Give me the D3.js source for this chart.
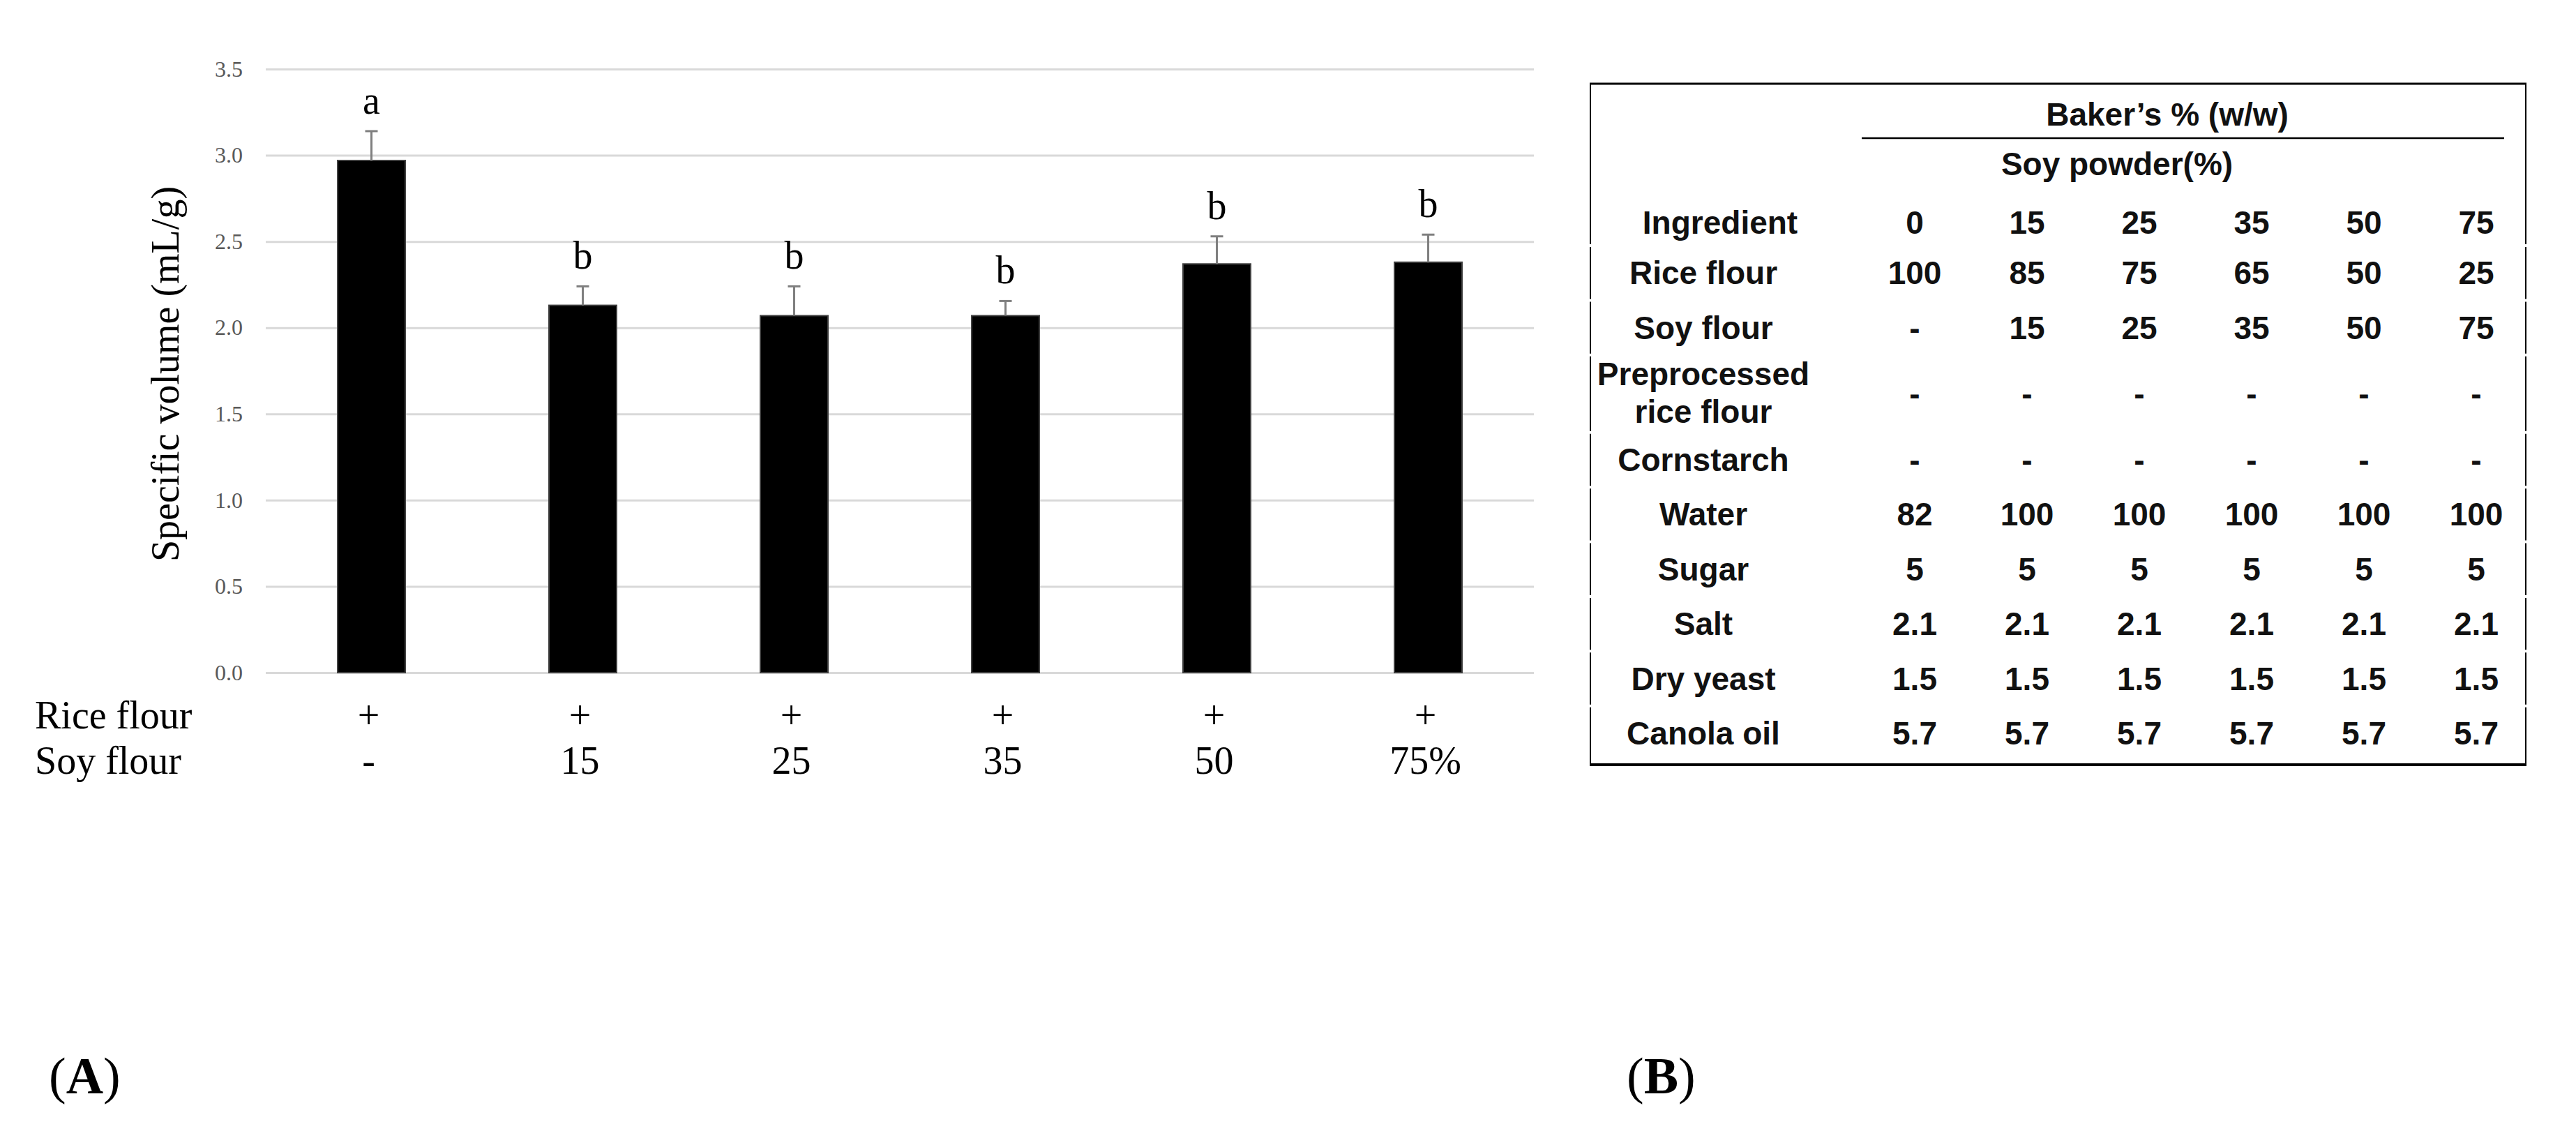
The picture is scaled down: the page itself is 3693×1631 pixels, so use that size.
<!DOCTYPE html>
<html>
<head>
<meta charset="utf-8">
<script src="https://cdnjs.cloudflare.com/ajax/libs/d3/7.8.5/d3.min.js"></script>
<style>
  html, body { margin: 0; padding: 0; background: #fff; }
  svg { display: block; }
  .serif { font-family: "Liberation Serif", "Times New Roman", serif; }
  .sans { font-family: "Liberation Sans", Arial, sans-serif; font-weight: bold; }
</style>
</head>
<body>
<svg id="fig" width="3693" height="1631"></svg>
<script>
// ---- panel A data ----
var riceMarks = ["+", "+", "+", "+", "+", "+"];
var soyLevels = ["-", "15", "25", "35", "50", "75%"];
var specificVolume = [2.97, 2.13, 2.07, 2.07, 2.37, 2.38];
var volumeSD = [0.17, 0.11, 0.17, 0.085, 0.16, 0.16];
var groupLetters = ["a", "b", "b", "b", "b", "b"];
var yTicks = [0, 0.5, 1.0, 1.5, 2.0, 2.5, 3.0, 3.5];

// ---- panel B data ----
var soyPowderCols = ["0", "15", "25", "35", "50", "75"];
var ingredients = ["Rice flour", "Soy flour", "Preprocessed\nrice flour", "Cornstarch",
  "Water", "Sugar", "Salt", "Dry yeast", "Canola oil"];
var riceFlourPct = ["100", "85", "75", "65", "50", "25"];
var soyFlourPct = ["-", "15", "25", "35", "50", "75"];
var preprocessedPct = ["-", "-", "-", "-", "-", "-"];
var cornstarchPct = ["-", "-", "-", "-", "-", "-"];
var waterPct = ["82", "100", "100", "100", "100", "100"];
var sugarPct = ["5", "5", "5", "5", "5", "5"];
var saltPct = ["2.1", "2.1", "2.1", "2.1", "2.1", "2.1"];
var yeastPct = ["1.5", "1.5", "1.5", "1.5", "1.5", "1.5"];
var oilPct = ["5.7", "5.7", "5.7", "5.7", "5.7", "5.7"];
var tableValues = [riceFlourPct, soyFlourPct, preprocessedPct, cornstarchPct,
  waterPct, sugarPct, saltPct, yeastPct, oilPct];

var svg = d3.select("#fig");
svg.append("rect").attr("width", 3693).attr("height", 1631).attr("fill", "#fff");

// ================= chart (A) =================
var x = d3.scaleBand()
  .domain(d3.range(specificVolume.length))
  .range([381, 2199])
  .paddingInner(0.68)
  .paddingOuter(0.34);

var y = d3.scaleLinear().domain([0, 3.5]).range([964, 99]);

var gridAxis = d3.axisLeft(y)
  .tickValues(yTicks)
  .tickFormat(d3.format(".1f"))
  .tickSize(-(2199 - 381))
  .tickPadding(33);

var ga = svg.append("g")
  .attr("class", "serif")
  .attr("transform", "translate(381,0)")
  .call(gridAxis);
ga.select(".domain").remove();
ga.selectAll(".tick line").attr("stroke", "#d9d9d9").attr("stroke-width", 3);
ga.selectAll(".tick text")
  .attr("fill", "#595959")
  .attr("font-size", 32)
  .attr("font-family", "Liberation Serif, Times New Roman, serif");

svg.append("g").selectAll("rect")
  .data(specificVolume)
  .enter().append("rect")
  .attr("x", function(d, i) { return x(i); })
  .attr("y", function(d) { return y(d); })
  .attr("width", x.bandwidth())
  .attr("height", function(d) { return y(0) - y(d); })
  .attr("fill", "#000")
  .attr("stroke", "#404040")
  .attr("stroke-width", 2);

var errG = svg.append("g")
  .attr("stroke", "#7f7f7f")
  .attr("stroke-width", 3)
  .attr("fill", "none");

specificVolume.forEach(function(v, i) {
  var cx = x(i) + x.bandwidth() / 2;
  var top = y(v + volumeSD[i]);
  errG.append("line")
    .attr("x1", cx).attr("x2", cx)
    .attr("y1", y(v)).attr("y2", top);
  errG.append("line")
    .attr("x1", cx - 9).attr("x2", cx + 9)
    .attr("y1", top).attr("y2", top);
});

svg.append("g").attr("class", "serif").selectAll("text")
  .data(groupLetters)
  .enter().append("text")
  .attr("x", function(d, i) { return x(i) + x.bandwidth() / 2; })
  .attr("y", function(d, i) { return y(specificVolume[i] + volumeSD[i]) - 25; })
  .attr("text-anchor", "middle")
  .attr("font-size", 56)
  .attr("fill", "#000")
  .text(function(d) { return d; });

// y axis title
svg.append("text")
  .attr("class", "serif")
  .attr("transform", "translate(256,536) rotate(-90)")
  .attr("text-anchor", "middle")
  .attr("font-size", 56)
  .attr("fill", "#000")
  .text("Specific volume (mL/g)");

// composition rows under the bars
var rowsA = [
  { label: "Rice flour", marks: riceMarks, base: 1044 },
  { label: "Soy flour", marks: soyLevels, base: 1109 }
];
rowsA.forEach(function(r) {
  var g = svg.append("g").attr("class", "serif").attr("font-size", 56).attr("fill", "#000");
  g.append("text").attr("x", 50).attr("y", r.base).text(r.label);
  g.selectAll("text.m")
    .data(r.marks)
    .enter().append("text")
    .attr("class", "m")
    .attr("x", function(d, i) { return x(i) + x.bandwidth() / 2 - 4; })
    .attr("y", r.base)
    .attr("text-anchor", "middle")
    .text(function(d) { return d; });
});

// panel labels
function panelLabel(px, letter) {
  var t = svg.append("text")
    .attr("class", "serif")
    .attr("x", px).attr("y", 1567)
    .attr("font-size", 74)
    .attr("fill", "#000");
  t.append("tspan").text("(");
  t.append("tspan").attr("font-weight", "bold").text(letter);
  t.append("tspan").text(")");
}
panelLabel(70, "A");
panelLabel(2332, "B");

// ================= table (B) =================
var tLeft = 2280, tRight = 3621, tTop = 120, tBottom = 1096;
var col = d3.scalePoint().domain(soyPowderCols).range([2745, 3550]);
var labelX = 2442;
var rowH = 78.4;
var rowTop = 352;

// row boundaries
var bounds = [rowTop];
ingredients.forEach(function(name) {
  var h = name.indexOf("\n") >= 0 ? rowH * 1.415 : rowH;
  bounds.push(bounds[bounds.length - 1] + h);
});

var tg = svg.append("g").attr("class", "sans").attr("font-size", 46).attr("fill", "#111");

// outer frame
svg.append("line").attr("x1", tLeft - 1).attr("x2", tRight + 1)
  .attr("y1", tTop).attr("y2", tTop).attr("stroke", "#000").attr("stroke-width", 3);
svg.append("line").attr("x1", tLeft - 1).attr("x2", tRight + 1)
  .attr("y1", tBottom).attr("y2", tBottom).attr("stroke", "#000").attr("stroke-width", 4);
var sideStops = [tTop].concat(bounds.slice(0, -1)).concat([tBottom]);
[tLeft, tRight].forEach(function(sx) {
  for (var k = 0; k < sideStops.length - 1; k++) {
    svg.append("line")
      .attr("x1", sx).attr("x2", sx)
      .attr("y1", sideStops[k] + (k === 0 ? 0 : 2))
      .attr("y2", sideStops[k + 1] - (k === sideStops.length - 2 ? 0 : 2))
      .attr("stroke", "#000").attr("stroke-width", 2);
  }
});

// header
tg.append("text").attr("x", 3107).attr("y", 180).attr("text-anchor", "middle")
  .text("Baker\u2019s % (w/w)");
svg.append("line").attr("x1", 2669).attr("x2", 3590)
  .attr("y1", 198).attr("y2", 198).attr("stroke", "#000").attr("stroke-width", 2.5);
tg.append("text").attr("x", 3035).attr("y", 251).attr("text-anchor", "middle")
  .text("Soy powder(%)");

tg.append("text").attr("x", labelX + 24).attr("y", 335).attr("text-anchor", "middle")
  .text("Ingredient");
tg.selectAll("text.colh")
  .data(soyPowderCols)
  .enter().append("text")
  .attr("class", "colh")
  .attr("x", function(d) { return col(d); })
  .attr("y", 335)
  .attr("text-anchor", "middle")
  .text(function(d) { return d; });

// body rows
ingredients.forEach(function(name, r) {
  var mid = (bounds[r] + bounds[r + 1]) / 2;
  var lines = name.split("\n");
  var lab = tg.append("text").attr("text-anchor", "middle");
  if (lines.length > 1) {
    lab.append("tspan").attr("x", labelX).attr("y", mid - 12).text(lines[0]);
    lab.append("tspan").attr("x", labelX).attr("y", mid + 42).text(lines[1]);
  } else {
    lab.attr("x", labelX).attr("y", mid + 16).text(name);
  }
  tg.selectAll("text.r" + r)
    .data(tableValues[r])
    .enter().append("text")
    .attr("class", "r" + r)
    .attr("x", function(d, i) { return col(soyPowderCols[i]); })
    .attr("y", mid + 16)
    .attr("text-anchor", "middle")
    .text(function(d) { return d; });
});
</script>
</body>
</html>
